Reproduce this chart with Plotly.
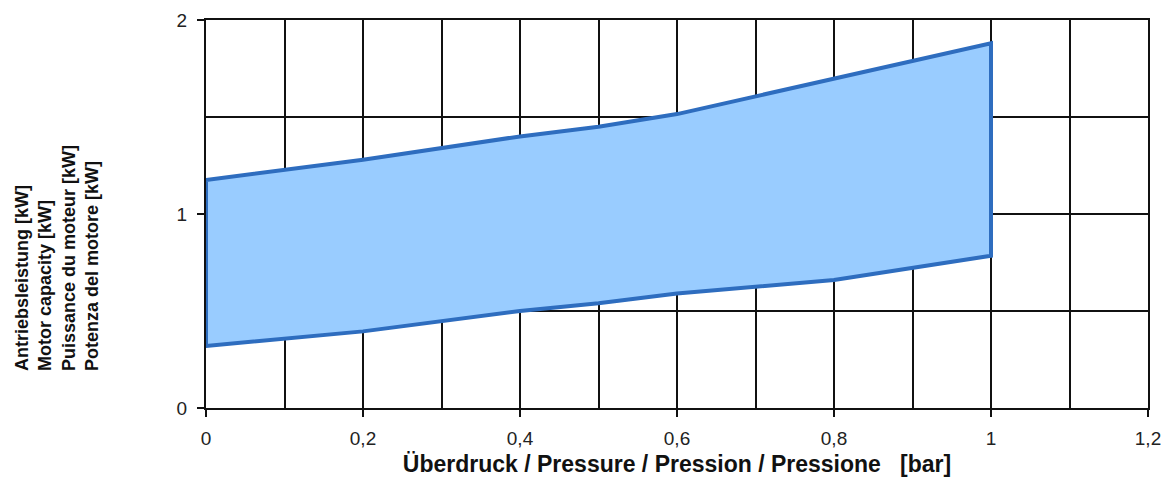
import plotly.graph_objects as go

# Data
pressure_upper = [0, 0.2, 0.4, 0.5, 0.6, 0.8, 1.0]
power_upper = [1.175, 1.28, 1.40, 1.45, 1.515, 1.695, 1.88]
pressure_lower = [0, 0.2, 0.4, 0.5, 0.6, 0.8, 1.0]
power_lower = [0.32, 0.395, 0.50, 0.54, 0.59, 0.66, 0.785]

x_tickvals = [0, 0.2, 0.4, 0.6, 0.8, 1.0, 1.2]
x_ticktext = ["0", "0,2", "0,4", "0,6", "0,8", "1", "1,2"]
y_tickvals = [0, 1, 2]
y_ticktext = ["0", "1", "2"]

poly_x = pressure_upper + pressure_lower[::-1] + [pressure_upper[0]]
poly_y = power_upper + power_lower[::-1] + [power_upper[0]]

fig = go.Figure()
fig.add_trace(go.Scatter(
    x=poly_x, y=poly_y, mode="lines", fill="toself",
    fillcolor="#99CCFF",
    line=dict(color="#2E6DBF", width=4),
    hoverinfo="skip", showlegend=False,
))

fig.update_layout(
    width=1170, height=497,
    margin=dict(l=198, r=30, t=12, b=97),
    paper_bgcolor="white", plot_bgcolor="white",
    font=dict(family="Liberation Sans, Arial, sans-serif", color="#222222", size=19),
    showlegend=False,
    xaxis=dict(
        range=[0, 1.2], tickvals=x_tickvals, ticktext=x_ticktext,
        showgrid=True, gridcolor="#111111", gridwidth=2,
        minor=dict(dtick=0.1, tick0=0, showgrid=True, gridcolor="#111111", gridwidth=2),
        showline=True, linecolor="#111111", linewidth=2, mirror=True,
        ticks="outside", ticklen=7, tickwidth=2, tickcolor="#111111",
        ticklabelstandoff=5,
        zeroline=False, fixedrange=True, automargin=False,
        tickfont=dict(size=19, color="#222222"),
        title=dict(text="<b>Überdruck / Pressure / Pression / Pressione   [bar]</b>",
                   font=dict(size=23, color="#111111"), standoff=8),
    ),
    yaxis=dict(
        range=[0, 2], tickvals=y_tickvals, ticktext=y_ticktext,
        showgrid=True, gridcolor="#111111", gridwidth=2,
        minor=dict(dtick=0.5, tick0=0, showgrid=True, gridcolor="#111111", gridwidth=2),
        showline=True, linecolor="#111111", linewidth=2, mirror=True,
        ticks="outside", ticklen=7, tickwidth=2, tickcolor="#111111",
        ticklabelstandoff=6,
        zeroline=False, fixedrange=True, automargin=False,
        tickfont=dict(size=19, color="#222222"),
    ),
)

fig.add_annotation(
    text="<b>Antriebsleistung [kW]<br>Motor capacity [kW]<br>Puissance du moteur [kW]<br>Potenza del motore [kW]</b>",
    xref="paper", yref="paper", x=0, y=0.09,
    xanchor="left", yanchor="bottom",
    xshift=-196,
    textangle=-90, align="left", showarrow=False,
    font=dict(size=18, color="#111111"),
)

fig.write_html("out.html")
